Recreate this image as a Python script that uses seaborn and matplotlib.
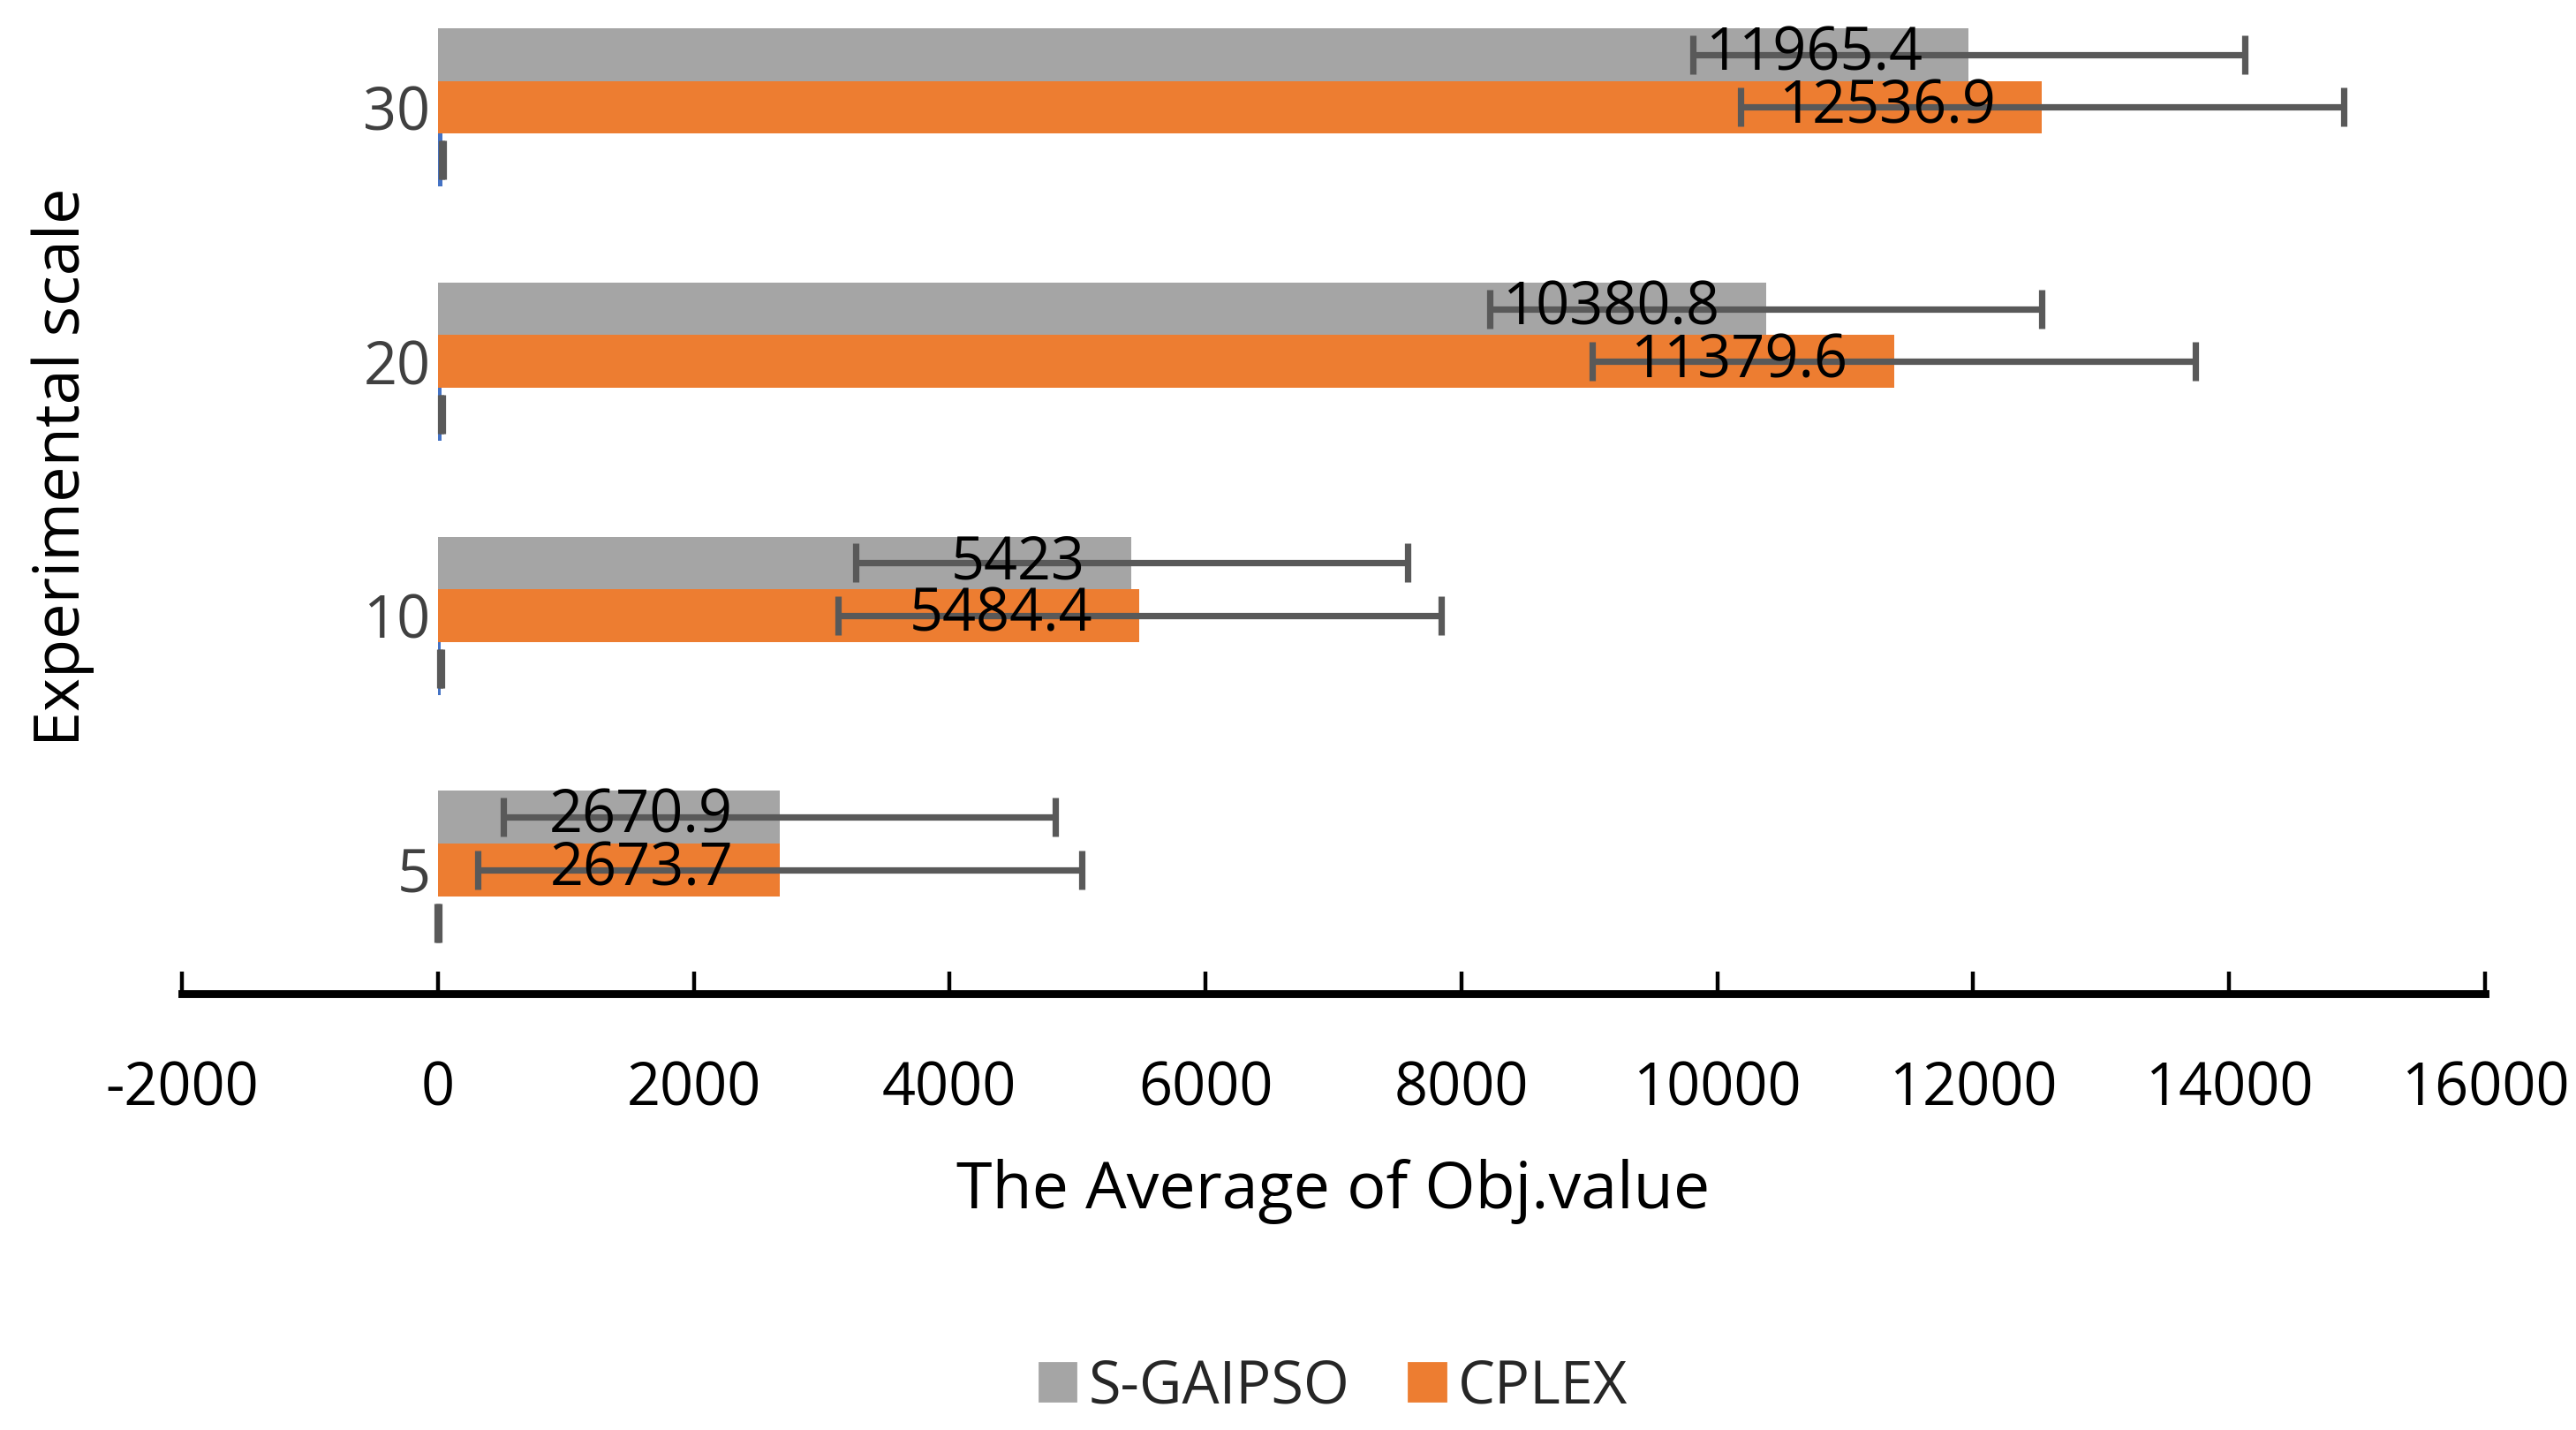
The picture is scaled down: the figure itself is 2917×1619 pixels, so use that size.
import numpy as np
import pandas as pd
import matplotlib
matplotlib.use("Agg")
import matplotlib.pyplot as plt
import seaborn as sns
from matplotlib.patches import Patch

# data
scales = ["30", "20", "10", "5"]
methods = ["S-GAIPSO", "CPLEX", "Time"]
sgaipso = [11965.4, 10380.8, 5423, 2670.9]
cplex = [12536.9, 11379.6, 5484.4, 2673.7]
small = [36, 28, 21, 5]
sgaipso_err = [2157, 2157, 2157, 2157]
cplex_err = [2358, 2358, 2358, 2358]
small_err = [7, 7, 7, 7]

colors = {"S-GAIPSO": "#A5A5A5", "CPLEX": "#ED7D31", "Time": "#4472C4"}
err_color = "#595959"

df = pd.DataFrame({
    "scale": scales * 3,
    "method": [m for m in methods for _ in scales],
    "value": sgaipso + cplex + small,
})
errs = {"S-GAIPSO": sgaipso_err, "CPLEX": cplex_err, "Time": small_err}
vals = {"S-GAIPSO": sgaipso, "CPLEX": cplex, "Time": small}

sns.set_theme(style="white")
plt.rcParams["font.family"] = ["Open Sans", "DejaVu Sans"]
plt.rcParams["axes.unicode_minus"] = False

fig = plt.figure(figsize=(2917 / 200, 1619 / 200), dpi=200)
ax = fig.add_axes([0.0706, 0.305, 0.8941, 0.695])

sns.barplot(data=df, y="scale", x="value", hue="method", order=scales,
            hue_order=methods, palette=colors, width=0.623, errorbar=None,
            orient="h", saturation=1, legend=False, linewidth=0, ax=ax)

# error bars and labels on each bar
for cont, m in zip(ax.containers, methods):
    for patch, e, v in zip(cont.patches, errs[m], vals[m]):
        w = patch.get_width()
        yc = patch.get_y() + patch.get_height() / 2
        ax.errorbar(w, yc, xerr=e, fmt="none", ecolor=err_color,
                    elinewidth=2.6, capsize=8, capthick=2.6, zorder=4)
        if m != "Time":
            ax.annotate(f"{v:g}", xy=(w, yc), xytext=(-19, 0),
                        textcoords="offset points", ha="right", va="center",
                        fontsize=24, color="black", zorder=5)

ax.set_xlim(-2000, 16000)
ax.set_ylim(3.487, -0.422)
ax.set_xticks(np.arange(-2000, 16001, 2000))

for s in ["top", "right", "left"]:
    ax.spines[s].set_visible(False)
# vertical axis crosses at x = 0, as in the original
ax.spines["left"].set_position(("data", 0))
ax.spines["bottom"].set_linewidth(3.2)
ax.spines["bottom"].set_color("black")

ax.tick_params(axis="x", direction="in", length=9, width=1.6, colors="black",
               labelsize=24, pad=27, bottom=True)
ax.tick_params(axis="y", length=0, labelsize=24, labelcolor="#404040", pad=3)

ax.set_xlabel("The Average of Obj.value", fontsize=26.5, color="black")
ax.xaxis.set_label_coords(0.5, -0.199)
ax.xaxis.label.set_verticalalignment("center")
ax.set_ylabel("Experimental scale", fontsize=26, color="black")
ax.yaxis.set_label_coords(-0.0516, 0.53, transform=ax.transAxes)
ax.yaxis.label.set_verticalalignment("center")

handles = [Patch(color=colors["S-GAIPSO"], label="S-GAIPSO"),
           Patch(color=colors["CPLEX"], label="CPLEX")]
fig.legend(handles=handles, loc="center", bbox_to_anchor=(0.5177, 0.03), ncol=2,
           frameon=False, fontsize=24, handlelength=0.62, handleheight=0.62,
           handletextpad=0.22, columnspacing=1.0)

fig.savefig("out.png", dpi=200, facecolor="white")
